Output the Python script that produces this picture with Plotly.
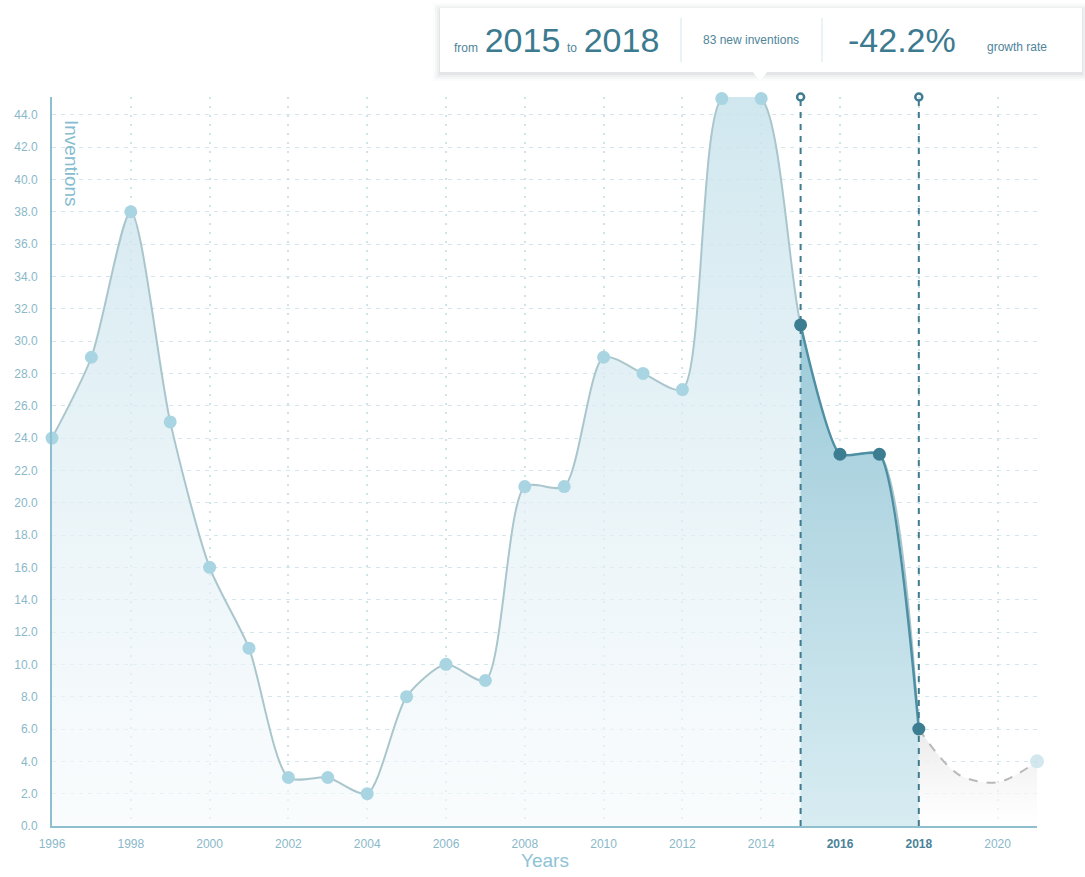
import plotly.graph_objects as go

# Yearly invention counts
years = list(range(1996, 2019))
inventions = [24, 29, 38, 25, 16, 11, 3, 3, 2, 8, 10, 9, 21, 21,
              29, 28, 27, 45, 45, 31, 23, 23, 6]

# Projected values after the last recorded year
forecast_years = [2019, 2020, 2021]
forecast_values = [3.2, 2.7, 4.0]

# Selected period
sel_start, sel_end = 2015, 2018
growth_label = "-42.2%"

x_ticks = list(range(1996, 2021, 2))
y_ticks = [i * 2.0 for i in range(23)]
Y_MAX = 45.1

# Page geometry (pixels)
W, H = 1085, 877
ML, MR, MT, MB = 52, 48, 97, 51
PW, PH = W - ML - MR, H - MT - MB


def px(x):
    return (x - ML) / PW


def py(y):
    return (H - MB - y) / PH


FONT = "Liberation Sans"
TEAL = "#3d7d92"
LIGHT_TXT = "#8ab8c9"

sel_idx = [i for i, y in enumerate(years) if sel_start <= y <= sel_end]
sel_x = [years[i] for i in sel_idx]
sel_y = [inventions[i] for i in sel_idx]
sel_total = sum(sel_y)

fig = go.Figure()

# Whole history: light line with a soft vertical gradient fill
fig.add_trace(go.Scatter(
    x=years, y=inventions, mode="lines",
    line=dict(color="#aac6cd", width=2, shape="spline", smoothing=0.72),
    fill="tozeroy",
    fillgradient=dict(type="vertical", start=0, stop=45,
                      colorscale=[[0, "rgba(246,250,252,0.6)"],
                                  [1, "rgba(200,227,236,0.85)"]]),
    hoverinfo="skip", showlegend=False,
))

# Projection: dashed grey curve and faint grey fill
proj_x = [years[-1]] + forecast_years
proj_y = [inventions[-1]] + forecast_values
fig.add_trace(go.Scatter(
    x=proj_x, y=proj_y, mode="lines",
    line=dict(color="#b9b9b9", width=2, dash="dash", shape="spline", smoothing=0.9),
    fill="tozeroy",
    fillgradient=dict(type="vertical", start=0, stop=6,
                      colorscale=[[0, "rgba(255,255,255,0.6)"],
                                  [1, "rgba(232,232,232,0.9)"]]),
    hoverinfo="skip", showlegend=False,
))

# Selected period: darker curve and fill
fig.add_trace(go.Scatter(
    x=sel_x, y=sel_y, mode="lines",
    line=dict(color="#4e8fa3", width=2.5, shape="spline", smoothing=0.55),
    fill="tozeroy",
    fillgradient=dict(type="vertical", start=0, stop=40,
                      colorscale=[[0, "rgba(216,236,242,1)"],
                                  [1, "rgba(140,193,210,1)"]]),
    hoverinfo="skip", showlegend=False,
))

# Markers outside the selection
other_x = [y for y in years if y < sel_start or y > sel_end]
other_y = [inventions[years.index(y)] for y in other_x]
fig.add_trace(go.Scatter(
    x=other_x, y=other_y, mode="markers",
    marker=dict(color="#a9d5e2", size=13, line=dict(width=0)),
    cliponaxis=False, hoverinfo="skip", showlegend=False,
))

# Faded marker at the projection end
fig.add_trace(go.Scatter(
    x=forecast_years[-1:], y=forecast_values[-1:], mode="markers",
    marker=dict(color="rgba(205,228,236,0.9)", size=14, line=dict(width=0)),
    cliponaxis=False, hoverinfo="skip", showlegend=False,
))

# Markers inside the selection
fig.add_trace(go.Scatter(
    x=sel_x, y=sel_y, mode="markers",
    marker=dict(color=TEAL, size=13, line=dict(width=0)),
    cliponaxis=False, hoverinfo="skip", showlegend=False,
))

# Handles at the top of the selection bounds
fig.add_trace(go.Scatter(
    x=[sel_start, sel_end], y=[Y_MAX, Y_MAX], mode="markers",
    marker=dict(symbol="circle-open", color=TEAL, size=7, line=dict(width=2.5, color=TEAL)),
    cliponaxis=False, hoverinfo="skip", showlegend=False,
))

shapes = []
for xb in (sel_start, sel_end):
    shapes.append(dict(type="line", xref="x", yref="y", x0=xb, x1=xb, y0=0, y1=Y_MAX,
                       line=dict(color="#3f7b8f", width=2, dash="6px,6px"), layer="above"))

# Summary box with a soft shadow and a pointer
bx0, bx1, by0, by1 = 440, 1082, 8, 72
for grow, alpha in ((7, 0.02), (5, 0.03), (3, 0.045), (1, 0.06)):
    shapes.append(dict(type="rect", xref="paper", yref="paper",
                       x0=px(bx0 - grow), x1=px(bx1 + grow),
                       y0=py(by1 + grow + 2), y1=py(by0 - grow + 2),
                       line=dict(width=0), fillcolor=f"rgba(60,80,90,{alpha})", layer="above"))
shapes.append(dict(type="rect", xref="paper", yref="paper",
                   x0=px(bx0), x1=px(bx1), y0=py(by1), y1=py(by0),
                   line=dict(width=0), fillcolor="white", layer="above"))
shapes.append(dict(type="path", xref="paper", yref="paper",
                   path=f"M {px(752)} {py(by1 - 1)} L {px(768)} {py(by1 - 1)} L {px(760)} {py(by1 + 9)} Z",
                   line=dict(width=0), fillcolor="white", layer="above"))
for dx in (681, 822):
    shapes.append(dict(type="line", xref="paper", yref="paper",
                       x0=px(dx), x1=px(dx), y0=py(18), y1=py(62),
                       line=dict(color="#e4eef2", width=1.5), layer="above"))

big = "font-size:34px;color:#3b7a8f"
annotations = [
    dict(x=px(556), y=py(40), xref="paper", yref="paper", showarrow=False,
         text=(f"from&nbsp; <span style='{big}'>{sel_start}</span>&nbsp; to&nbsp; "
               f"<span style='{big}'>{sel_end}</span>"),
         font=dict(family=FONT, size=12, color="#4f8499"), xanchor="center", yanchor="middle"),
    dict(x=px(751), y=py(40), xref="paper", yref="paper", showarrow=False,
         text=f"{sel_total} new inventions",
         font=dict(family=FONT, size=12, color="#4f8499"), xanchor="center", yanchor="middle"),
    dict(x=px(902), y=py(40), xref="paper", yref="paper", showarrow=False,
         text=growth_label,
         font=dict(family=FONT, size=34, color="#3b7a8f"), xanchor="center", yanchor="middle"),
    dict(x=px(1017), y=py(47), xref="paper", yref="paper", showarrow=False,
         text="growth rate",
         font=dict(family=FONT, size=12, color="#4f8499"), xanchor="center", yanchor="middle"),
    # Axis titles
    dict(x=px(72), y=py(163), xref="paper", yref="paper", showarrow=False,
         text="Inventions", textangle=90,
         font=dict(family=FONT, size=19, color="#86bcd0"), xanchor="center", yanchor="middle"),
    dict(x=px(545), y=py(860), xref="paper", yref="paper", showarrow=False,
         text="Years",
         font=dict(family=FONT, size=19, color="#8ec3d6"), xanchor="center", yanchor="middle"),
]

tick_text = []
for t in x_ticks:
    if sel_start < t <= sel_end:
        tick_text.append(f"<b><span style='color:#4a8298'>{t}</span></b>")
    else:
        tick_text.append(str(t))

fig.update_layout(
    width=W, height=H,
    margin=dict(l=ML, r=MR, t=MT, b=MB),
    paper_bgcolor="white", plot_bgcolor="white",
    font=dict(family=FONT, size=12, color=LIGHT_TXT),
    shapes=shapes, annotations=annotations,
    hovermode=False,
    xaxis=dict(range=[1996, 2021], tickvals=x_ticks, ticktext=tick_text,
               showgrid=True, gridcolor="#cfe3eb", griddash="2px,7px", gridwidth=1.5,
               showline=True, linecolor="#8dbfcf", linewidth=2,
               zeroline=False, ticks="", ticklabelstandoff=6,
               tickfont=dict(family=FONT, size=12, color=LIGHT_TXT)),
    yaxis=dict(range=[0, Y_MAX], tickvals=y_ticks, tickformat=".1f",
               showgrid=True, gridcolor="#d3e6ed", griddash="4px,5px", gridwidth=1.3,
               showline=True, linecolor="#8dbfcf", linewidth=2,
               zeroline=False, ticks="", ticklabelstandoff=10,
               tickfont=dict(family=FONT, size=12, color=LIGHT_TXT)),
)

fig.write_html("out.html")
